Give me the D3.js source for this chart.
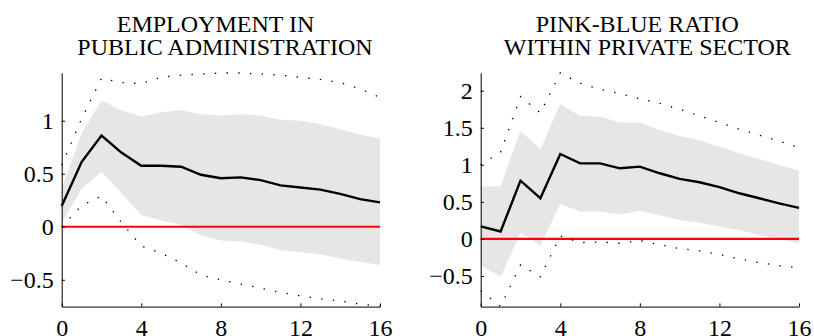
<!DOCTYPE html>
<html>
<head>
<meta charset="utf-8">
<script src="https://cdn.jsdelivr.net/npm/d3@7"></script>
<style>
  html, body { margin: 0; padding: 0; background: #fff; }
  svg { display: block; }
</style>
</head>
<body>
<svg id="chart" width="814" height="336"></svg>
<script>
// ---------- DATA ----------
const horizons = d3.range(0, 17); // 0..16

// Panel 1: Employment in public administration
const empMedian = [0.195, 0.61, 0.86, 0.70, 0.575, 0.575, 0.566, 0.49, 0.457, 0.466, 0.44, 0.39, 0.37, 0.35, 0.31, 0.26, 0.23];
const empBandHi = [0.36, 0.88, 1.19, 1.10, 1.04, 1.08, 1.10, 1.06, 1.05, 1.06, 1.05, 1.01, 1.00, 0.97, 0.92, 0.87, 0.83];
const empBandLo = [0.03, 0.36, 0.52, 0.32, 0.11, 0.06, 0.02, -0.08, -0.13, -0.14, -0.17, -0.22, -0.24, -0.26, -0.30, -0.33, -0.36];
const empDotHi  = [0.58, 1.02, 1.40, 1.36, 1.35, 1.41, 1.43, 1.44, 1.45, 1.45, 1.44, 1.43, 1.41, 1.39, 1.36, 1.30, 1.22];
const empDotLo  = [0.00, 0.20, 0.29, 0.04, -0.18, -0.25, -0.34, -0.455, -0.50, -0.54, -0.58, -0.62, -0.65, -0.68, -0.70, -0.73, -0.75];

// Panel 2: Pink-blue ratio within private sector
const pbMedian = [0.17, 0.10, 0.786, 0.549, 1.146, 1.02, 1.02, 0.953, 0.975, 0.886, 0.81, 0.765, 0.70, 0.616, 0.549, 0.48, 0.42];
const pbBandHi = [0.705, 0.715, 1.46, 1.21, 1.82, 1.66, 1.65, 1.57, 1.57, 1.47, 1.39, 1.33, 1.245, 1.155, 1.075, 1.00, 0.92];
const pbBandLo = [-0.36, -0.51, 0.085, -0.09, 0.47, 0.37, 0.37, 0.33, 0.38, 0.32, 0.256, 0.22, 0.166, 0.12, 0.054, 0.0, -0.058];
const pbDotHi  = [1.00, 1.17, 1.92, 1.70, 2.24, 2.10, 2.02, 1.96, 1.89, 1.83, 1.75, 1.66, 1.57, 1.48, 1.40, 1.32, 1.23];
const pbDotLo  = [-0.70, -0.91, -0.35, -0.51, 0.04, -0.05, -0.04, -0.06, -0.02, -0.08, -0.13, -0.16, -0.21, -0.27, -0.32, -0.36, -0.39];

// Axis ticks / labels
const xTicks = [0, 4, 8, 12, 16];
const yTicksEmp = [-0.5, 0, 0.5, 1];
const yTicksPb = [-0.5, 0, 0.5, 1, 1.5, 2];
const yDomainEmp = [-0.753, 1.453];
const yDomainPb = [-0.913, 2.243];

// Titles
const titleEmp = ["EMPLOYMENT IN", "PUBLIC ADMINISTRATION"];
const titlePb = ["PINK-BLUE RATIO", "WITHIN PRIVATE SECTOR"];

// ---------- DRAW ----------
const FONT = "Liberation Serif";
const svg = d3.select("#chart");

function panel(cfg) {
  const x = d3.scaleLinear().domain([0, 16]).range([cfg.x0, cfg.x1]);
  const y = d3.scaleLinear().domain(cfg.yDomain).range([cfg.yBottom, cfg.yTop]);
  const g = svg.append("g");

  // band
  const area = d3.area()
    .x((d, i) => x(horizons[i]))
    .y0((d, i) => y(cfg.lo[i]))
    .y1((d, i) => y(cfg.hi[i]));
  g.append("path").datum(cfg.hi).attr("d", area)
    .attr("fill", "#e6e6e6").attr("stroke", "none");

  const line = d3.line().x((d, i) => x(horizons[i])).y(d => y(d));

  // zero line
  g.append("line")
    .attr("x1", x(0)).attr("x2", x(16))
    .attr("y1", y(0)).attr("y2", y(0))
    .attr("stroke", "#ff0000").attr("stroke-width", 2.2);

  // median
  g.append("path").datum(cfg.median).attr("d", line)
    .attr("fill", "none").attr("stroke", "#000").attr("stroke-width", 2.4)
    .attr("stroke-linejoin", "miter");

  // dotted bounds
  [cfg.dotHi, cfg.dotLo].forEach(arr => {
    g.append("path").datum(arr).attr("d", line)
      .attr("fill", "none").attr("stroke", "#000").attr("stroke-width", 1.3)
      .attr("stroke-dasharray", "1.4 10.3");
  });

  const fmt = d3.format("");

  // y axis
  const ya = g.append("g").attr("transform", `translate(${cfg.x0},0)`)
    .call(d3.axisLeft(y).tickValues(cfg.yTicks).tickFormat(fmt)
      .tickSizeInner(-3.2).tickSizeOuter(0).tickPadding(8));
  ya.attr("font-family", FONT).attr("font-size", 24);
  ya.select(".domain").attr("stroke", "#000").attr("stroke-width", 1);
  ya.selectAll(".tick line").attr("stroke", "#000");
  ya.selectAll("text").attr("fill", "#000");

  // x axis
  const xa = g.append("g").attr("transform", `translate(0,${cfg.yBottom})`)
    .call(d3.axisBottom(x).tickValues(xTicks).tickFormat(fmt)
      .tickSizeInner(-3.2).tickSizeOuter(0).tickPadding(8));
  xa.attr("font-family", FONT).attr("font-size", 24);
  xa.select(".domain").attr("stroke", "#000").attr("stroke-width", 1);
  xa.selectAll(".tick line").attr("stroke", "#000");
  xa.selectAll("text").attr("fill", "#000").attr("dy", null).attr("y", 29);

  // title
  cfg.title.forEach((t, i) => {
    g.append("text")
      .attr("x", cfg.titleX[i]).attr("y", 31.7 + i * 23.3)
      .attr("text-anchor", "middle")
      .attr("font-family", FONT).attr("font-size", 24).attr("fill", "#000")
      .text(t);
  });
}

panel({
  x0: 61.7, x1: 380, yTop: 72.7, yBottom: 306.6, yDomain: yDomainEmp,
  median: empMedian, hi: empBandHi, lo: empBandLo, dotHi: empDotHi, dotLo: empDotLo,
  yTicks: yTicksEmp, title: titleEmp, titleX: [215.5, 225]
});
panel({
  x0: 480.7, x1: 799, yTop: 72.7, yBottom: 306.6, yDomain: yDomainPb,
  median: pbMedian, hi: pbBandHi, lo: pbBandLo, dotHi: pbDotHi, dotLo: pbDotLo,
  yTicks: yTicksPb, title: titlePb, titleX: [637.3, 647.3]
});
</script>
</body>
</html>
